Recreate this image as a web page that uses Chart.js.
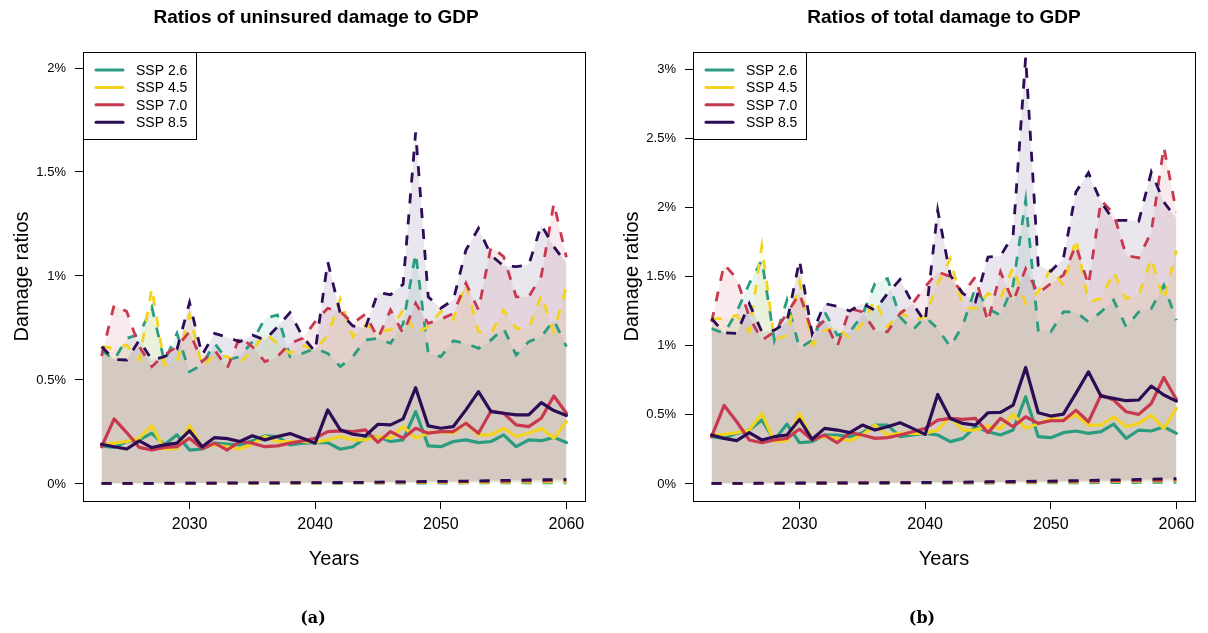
<!DOCTYPE html>
<html><head><meta charset="utf-8">
<script src="https://cdn.jsdelivr.net/npm/chart.js@4.4.1/dist/chart.umd.min.js"></script>
<style>
html,body{margin:0;padding:0;background:#fff;}
#wrap{position:relative;width:1208px;height:633px;overflow:hidden;font-family:"Liberation Sans",Arial,sans-serif;color:#000;}
canvas{position:absolute;top:0;}
.title{position:absolute;top:6px;line-height:22px;font-weight:bold;font-size:19px;white-space:nowrap;transform:translateX(-50%);}
.cap{position:absolute;top:608px;line-height:20px;font-family:"DejaVu Serif","Liberation Serif",serif;font-weight:bold;font-size:16px;transform:translateX(-50%);}
</style></head>
<body>
<div id="wrap">
  <canvas id="c1" width="598" height="633" style="left:0px"></canvas>
  <canvas id="c2" width="598" height="633" style="left:610px"></canvas>
  <div class="title" style="left:316px">Ratios of uninsured damage to GDP</div>
  <div class="title" style="left:944px">Ratios of total damage to GDP</div>
  <div class="cap" style="left:313px">(a)</div>
  <div class="cap" style="left:922px">(b)</div>
</div>
<script>
const years = [2023,2024,2025,2026,2027,2028,2029,2030,2031,2032,2033,2034,2035,2036,2037,2038,2039,2040,2041,2042,2043,2044,2045,2046,2047,2048,2049,2050,2051,2052,2053,2054,2055,2056,2057,2058,2059,2060];
const sspLabels = ['SSP 2.6','SSP 4.5','SSP 7.0','SSP 8.5'];
const sspColors = ['#2a9d80','#f2d41e','#c8384f','#2d0c56'];
const xTicks = [2030,2040,2050,2060];
const xTickLabels = ['2030','2040','2050','2060'];
const yTicksA = [0,0.5,1,1.5,2];
const yTickLabelsA = ['0%','0.5%','1%','1.5%','2%'];
const yTicksB = [0,0.5,1,1.5,2,2.5,3];
const yTickLabelsB = ['0%','0.5%','1%','1.5%','2%','2.5%','3%'];

// (a) uninsured damage / GDP, in %
const aMean26 = [0.183,0.176,0.204,0.212,0.244,0.188,0.236,0.163,0.168,0.196,0.192,0.188,0.207,0.231,0.228,0.188,0.196,0.199,0.199,0.167,0.179,0.220,0.228,0.204,0.212,0.348,0.183,0.179,0.204,0.212,0.199,0.204,0.236,0.179,0.212,0.208,0.224,0.199];
const aMean45 = [0.188,0.196,0.204,0.220,0.280,0.167,0.171,0.280,0.179,0.188,0.179,0.168,0.191,0.228,0.204,0.204,0.204,0.200,0.212,0.228,0.212,0.212,0.228,0.220,0.276,0.220,0.244,0.252,0.244,0.292,0.236,0.236,0.268,0.228,0.244,0.268,0.220,0.300];
const aMean70 = [0.179,0.313,0.247,0.176,0.163,0.176,0.179,0.220,0.170,0.196,0.163,0.204,0.196,0.179,0.183,0.196,0.207,0.220,0.252,0.255,0.252,0.260,0.200,0.252,0.220,0.268,0.244,0.252,0.252,0.292,0.244,0.351,0.340,0.284,0.276,0.316,0.423,0.340];
const aMean85 = [0.191,0.179,0.168,0.207,0.175,0.188,0.196,0.256,0.179,0.223,0.218,0.204,0.232,0.212,0.228,0.242,0.220,0.196,0.356,0.260,0.239,0.231,0.287,0.284,0.313,0.463,0.279,0.268,0.276,0.356,0.444,0.348,0.340,0.332,0.332,0.391,0.353,0.329];
const aUp26 = [0.644,0.596,0.700,0.720,0.850,0.588,0.724,0.540,0.572,0.676,0.596,0.612,0.684,0.796,0.813,0.612,0.628,0.652,0.628,0.564,0.612,0.692,0.700,0.676,0.770,1.109,0.628,0.612,0.688,0.676,0.652,0.692,0.748,0.620,0.684,0.708,0.788,0.660];
const aUp45 = [0.660,0.652,0.668,0.596,0.941,0.572,0.588,0.813,0.564,0.620,0.612,0.580,0.644,0.724,0.676,0.628,0.668,0.644,0.716,0.890,0.708,0.764,0.740,0.740,0.837,0.724,0.756,0.830,0.790,0.965,0.732,0.724,0.837,0.748,0.748,0.909,0.732,0.949];
const aUp70 = [0.615,0.861,0.829,0.660,0.564,0.620,0.660,0.732,0.588,0.644,0.556,0.708,0.660,0.588,0.612,0.676,0.700,0.780,0.845,0.829,0.772,0.817,0.700,0.837,0.724,0.869,0.772,0.792,0.820,0.965,0.837,1.141,1.093,0.900,0.900,1.000,1.349,1.090];
const aUp85 = [0.660,0.599,0.596,0.692,0.596,0.612,0.647,0.872,0.620,0.724,0.705,0.684,0.716,0.692,0.756,0.824,0.708,0.636,1.069,0.820,0.760,0.750,0.920,0.910,0.960,1.690,0.900,0.845,0.885,1.125,1.229,1.100,1.048,1.045,1.053,1.245,1.141,1.061];
const aLo26 = [0.002,0.002,0.002,0.002,0.002,0.002,0.002,0.002,0.002,0.003,0.003,0.003,0.003,0.003,0.003,0.003,0.003,0.003,0.003,0.003,0.004,0.004,0.004,0.004,0.004,0.004,0.004,0.004,0.004,0.005,0.005,0.005,0.005,0.005,0.005,0.005,0.005,0.005];
const aLo45 = [0.002,0.002,0.002,0.002,0.002,0.002,0.003,0.003,0.003,0.003,0.003,0.003,0.003,0.004,0.004,0.004,0.004,0.004,0.004,0.005,0.005,0.005,0.005,0.006,0.006,0.006,0.006,0.007,0.007,0.007,0.008,0.008,0.008,0.009,0.009,0.009,0.010,0.010];
const aLo70 = [0.003,0.003,0.003,0.003,0.003,0.003,0.003,0.004,0.004,0.004,0.004,0.004,0.005,0.005,0.005,0.005,0.005,0.006,0.006,0.006,0.007,0.007,0.008,0.008,0.009,0.009,0.010,0.010,0.011,0.011,0.012,0.013,0.013,0.014,0.015,0.015,0.016,0.017];
const aLo85 = [0.003,0.003,0.003,0.003,0.003,0.004,0.004,0.004,0.004,0.004,0.005,0.005,0.005,0.005,0.005,0.006,0.006,0.006,0.006,0.007,0.008,0.008,0.009,0.010,0.010,0.011,0.012,0.012,0.013,0.014,0.015,0.016,0.017,0.018,0.019,0.020,0.021,0.022];

// (b) total damage / GDP, in %
const bMean26 = [0.342,0.330,0.366,0.390,0.462,0.318,0.433,0.298,0.306,0.354,0.354,0.342,0.371,0.426,0.426,0.342,0.354,0.366,0.354,0.306,0.330,0.414,0.378,0.354,0.390,0.631,0.342,0.335,0.371,0.383,0.366,0.378,0.433,0.330,0.390,0.383,0.414,0.366];
const bMean45 = [0.354,0.359,0.371,0.390,0.510,0.306,0.313,0.510,0.323,0.342,0.330,0.313,0.354,0.426,0.354,0.366,0.366,0.366,0.390,0.486,0.390,0.390,0.419,0.402,0.505,0.402,0.438,0.474,0.462,0.498,0.426,0.426,0.486,0.414,0.438,0.498,0.402,0.546];
const bMean70 = [0.342,0.568,0.450,0.318,0.298,0.318,0.330,0.397,0.318,0.354,0.298,0.371,0.354,0.330,0.335,0.354,0.378,0.402,0.462,0.474,0.467,0.474,0.371,0.474,0.414,0.486,0.438,0.457,0.457,0.534,0.450,0.643,0.607,0.522,0.503,0.582,0.770,0.611];
const bMean85 = [0.354,0.330,0.313,0.371,0.318,0.342,0.354,0.467,0.323,0.402,0.390,0.371,0.426,0.390,0.414,0.443,0.402,0.359,0.647,0.474,0.438,0.426,0.515,0.517,0.570,0.842,0.515,0.491,0.505,0.655,0.811,0.635,0.619,0.602,0.607,0.708,0.643,0.599];
const bUp26 = [1.124,1.088,1.244,1.449,1.617,1.040,1.329,0.980,1.040,1.244,1.076,1.100,1.220,1.449,1.485,1.208,1.112,1.208,1.124,0.992,1.148,1.420,1.268,1.220,1.437,2.051,1.112,1.100,1.244,1.244,1.172,1.244,1.329,1.136,1.244,1.268,1.437,1.184];
const bUp45 = [1.196,1.196,1.220,1.100,1.720,1.040,1.076,1.461,1.004,1.112,1.131,1.052,1.160,1.329,1.136,1.244,1.184,1.208,1.450,1.629,1.280,1.268,1.377,1.341,1.569,1.304,1.389,1.557,1.437,1.774,1.317,1.341,1.533,1.341,1.365,1.629,1.329,1.690];
const bUp70 = [1.172,1.588,1.485,1.208,1.040,1.100,1.232,1.377,1.100,1.184,0.992,1.268,1.244,1.112,1.100,1.232,1.304,1.425,1.533,1.500,1.377,1.497,1.172,1.533,1.317,1.557,1.377,1.449,1.509,1.726,1.437,2.051,1.954,1.653,1.634,1.822,2.436,1.966];
const bUp85 = [1.196,1.093,1.088,1.304,1.100,1.112,1.172,1.617,1.088,1.304,1.285,1.251,1.304,1.256,1.377,1.478,1.304,1.172,1.978,1.509,1.377,1.317,1.641,1.649,1.798,3.085,1.581,1.538,1.629,2.111,2.250,2.038,1.906,1.906,1.899,2.255,2.038,1.918];
const bLo26 = [0.004,0.004,0.004,0.004,0.004,0.004,0.004,0.005,0.005,0.005,0.005,0.005,0.005,0.005,0.006,0.006,0.006,0.006,0.006,0.006,0.007,0.007,0.007,0.007,0.008,0.008,0.008,0.008,0.009,0.009,0.009,0.010,0.010,0.010,0.011,0.011,0.012,0.012];
const bLo45 = [0.004,0.004,0.004,0.004,0.005,0.005,0.005,0.005,0.005,0.006,0.006,0.006,0.006,0.007,0.007,0.007,0.008,0.008,0.008,0.009,0.009,0.010,0.010,0.011,0.011,0.012,0.012,0.013,0.014,0.014,0.015,0.016,0.017,0.018,0.019,0.020,0.021,0.022];
const bLo70 = [0.005,0.005,0.005,0.005,0.005,0.006,0.006,0.006,0.006,0.007,0.007,0.007,0.008,0.008,0.008,0.009,0.009,0.010,0.010,0.011,0.011,0.012,0.013,0.013,0.014,0.015,0.016,0.017,0.018,0.019,0.020,0.021,0.022,0.023,0.025,0.026,0.027,0.029];
const bLo85 = [0.005,0.005,0.005,0.005,0.006,0.006,0.006,0.007,0.007,0.007,0.008,0.008,0.008,0.009,0.009,0.010,0.010,0.011,0.012,0.013,0.014,0.015,0.016,0.017,0.018,0.019,0.020,0.021,0.023,0.024,0.026,0.027,0.029,0.031,0.033,0.035,0.037,0.039];

Chart.defaults.font.family = '"Liberation Sans", Arial, sans-serif';
Chart.defaults.color = '#000';

function hexA(hex, a){
  const n = parseInt(hex.slice(1),16);
  return 'rgba('+((n>>16)&255)+','+((n>>8)&255)+','+(n&255)+','+a+')';
}
function pts(arr){ return years.map((yr,i)=>({x:yr, y:arr[i]})); }

const framePlugin = {
  id:'frameAndLegend',
  afterDraw(chart){
    const {ctx, chartArea:a} = chart;
    ctx.save();
    ctx.strokeStyle = '#000';
    ctx.lineWidth = 1;
    const L = Math.round(a.left)+0.5, T = Math.round(a.top)+0.5;
    ctx.strokeRect(L, T, Math.round(a.right)-Math.round(a.left), Math.round(a.bottom)-Math.round(a.top));
    // legend box
    const w = 113, h = 87;
    ctx.fillStyle = '#fff';
    ctx.fillRect(L, T, w, h);
    ctx.strokeRect(L, T, w, h);
    ctx.font = '14px "Liberation Sans", Arial, sans-serif';
    ctx.textBaseline = 'middle';
    ctx.textAlign = 'left';
    for (let k=0;k<4;k++){
      const y = a.top + 18 + k*17.4;
      ctx.strokeStyle = sspColors[k];
      ctx.lineWidth = 3;
      ctx.lineCap = 'round';
      ctx.beginPath(); ctx.moveTo(a.left+13, y); ctx.lineTo(a.left+40, y); ctx.stroke();
      ctx.fillStyle = '#000';
      ctx.fillText(sspLabels[k], a.left+53, y+1);
    }
    ctx.restore();
  }
};

function makeChart(id, means, ups, los, yMin, yMax, yTicks, yTickLabels){
  const datasets = [];
  for (let k=3;k>=0;k--){
    const col = sspColors[k];
    datasets.push({label:sspLabels[k]+' low', data:pts(los[k]), borderColor:col, borderWidth:2.8, borderDash:[10,11], borderCapStyle:'butt', pointRadius:0, fill:false, tension:0});
    datasets.push({label:sspLabels[k]+' high', data:pts(ups[k]), borderColor:col, borderWidth:2.8, borderDash:[10,11], borderCapStyle:'butt', pointRadius:0, fill:'-1', backgroundColor:hexA(col,0.1), tension:0});
    datasets.push({label:sspLabels[k], data:pts(means[k]), borderColor:col, borderWidth:3.2, borderJoinStyle:'round', borderCapStyle:'round', pointRadius:0, fill:false, tension:0});
  }
  return new Chart(document.getElementById(id), {
    type:'line',
    data:{datasets},
    options:{
      responsive:false, animation:false, events:[],
      layout:{padding:{left:0,right:13,top:52,bottom:62}},
      plugins:{legend:{display:false}, tooltip:{enabled:false}, title:{display:false}, filler:{drawTime:'beforeDatasetsDraw'}},
      scales:{
        x:{type:'linear', position:'bottom', min:2021.52, max:2061.48,
          afterBuildTicks:(s)=>{ s.ticks = xTicks.map(v=>({value:v})); },
          afterFit:(s)=>{ s.height = 70; },
          ticks:{autoSkip:false, maxRotation:0, padding:6, font:{size:16}, color:'#000', callback:(v,i)=>xTickLabels[i]},
          grid:{drawOnChartArea:false, drawTicks:true, tickLength:8, color:'#000', lineWidth:1},
          border:{display:true, color:'#000', width:1},
          title:{display:true, text:'Years', font:{size:20}, color:'#000', padding:{top:0,bottom:0}}
        },
        y:{type:'linear', position:'left', min:yMin, max:yMax,
          afterBuildTicks:(s)=>{ s.ticks = yTicks.map(v=>({value:v})); },
          afterFit:(s)=>{ s.width = 83; },
          ticks:{autoSkip:false, padding:9, font:{size:13}, color:'#000', callback:(v,i)=>yTickLabels[i]},
          grid:{drawOnChartArea:false, drawTicks:true, tickLength:8, color:'#000', lineWidth:1},
          border:{display:true, color:'#000', width:1},
          title:{display:true, text:'Damage ratios', font:{size:20}, color:'#000', padding:{top:10,bottom:0}}
        }
      }
    },
    plugins:[framePlugin]
  });
}

makeChart('c1', [aMean26,aMean45,aMean70,aMean85], [aUp26,aUp45,aUp70,aUp85], [aLo26,aLo45,aLo70,aLo85], -0.082, 2.077, yTicksA, yTickLabelsA);
makeChart('c2', [bMean26,bMean45,bMean70,bMean85], [bUp26,bUp45,bUp70,bUp85], [bLo26,bLo45,bLo70,bLo85], -0.123, 3.123, yTicksB, yTickLabelsB);
</script>
</body></html>
